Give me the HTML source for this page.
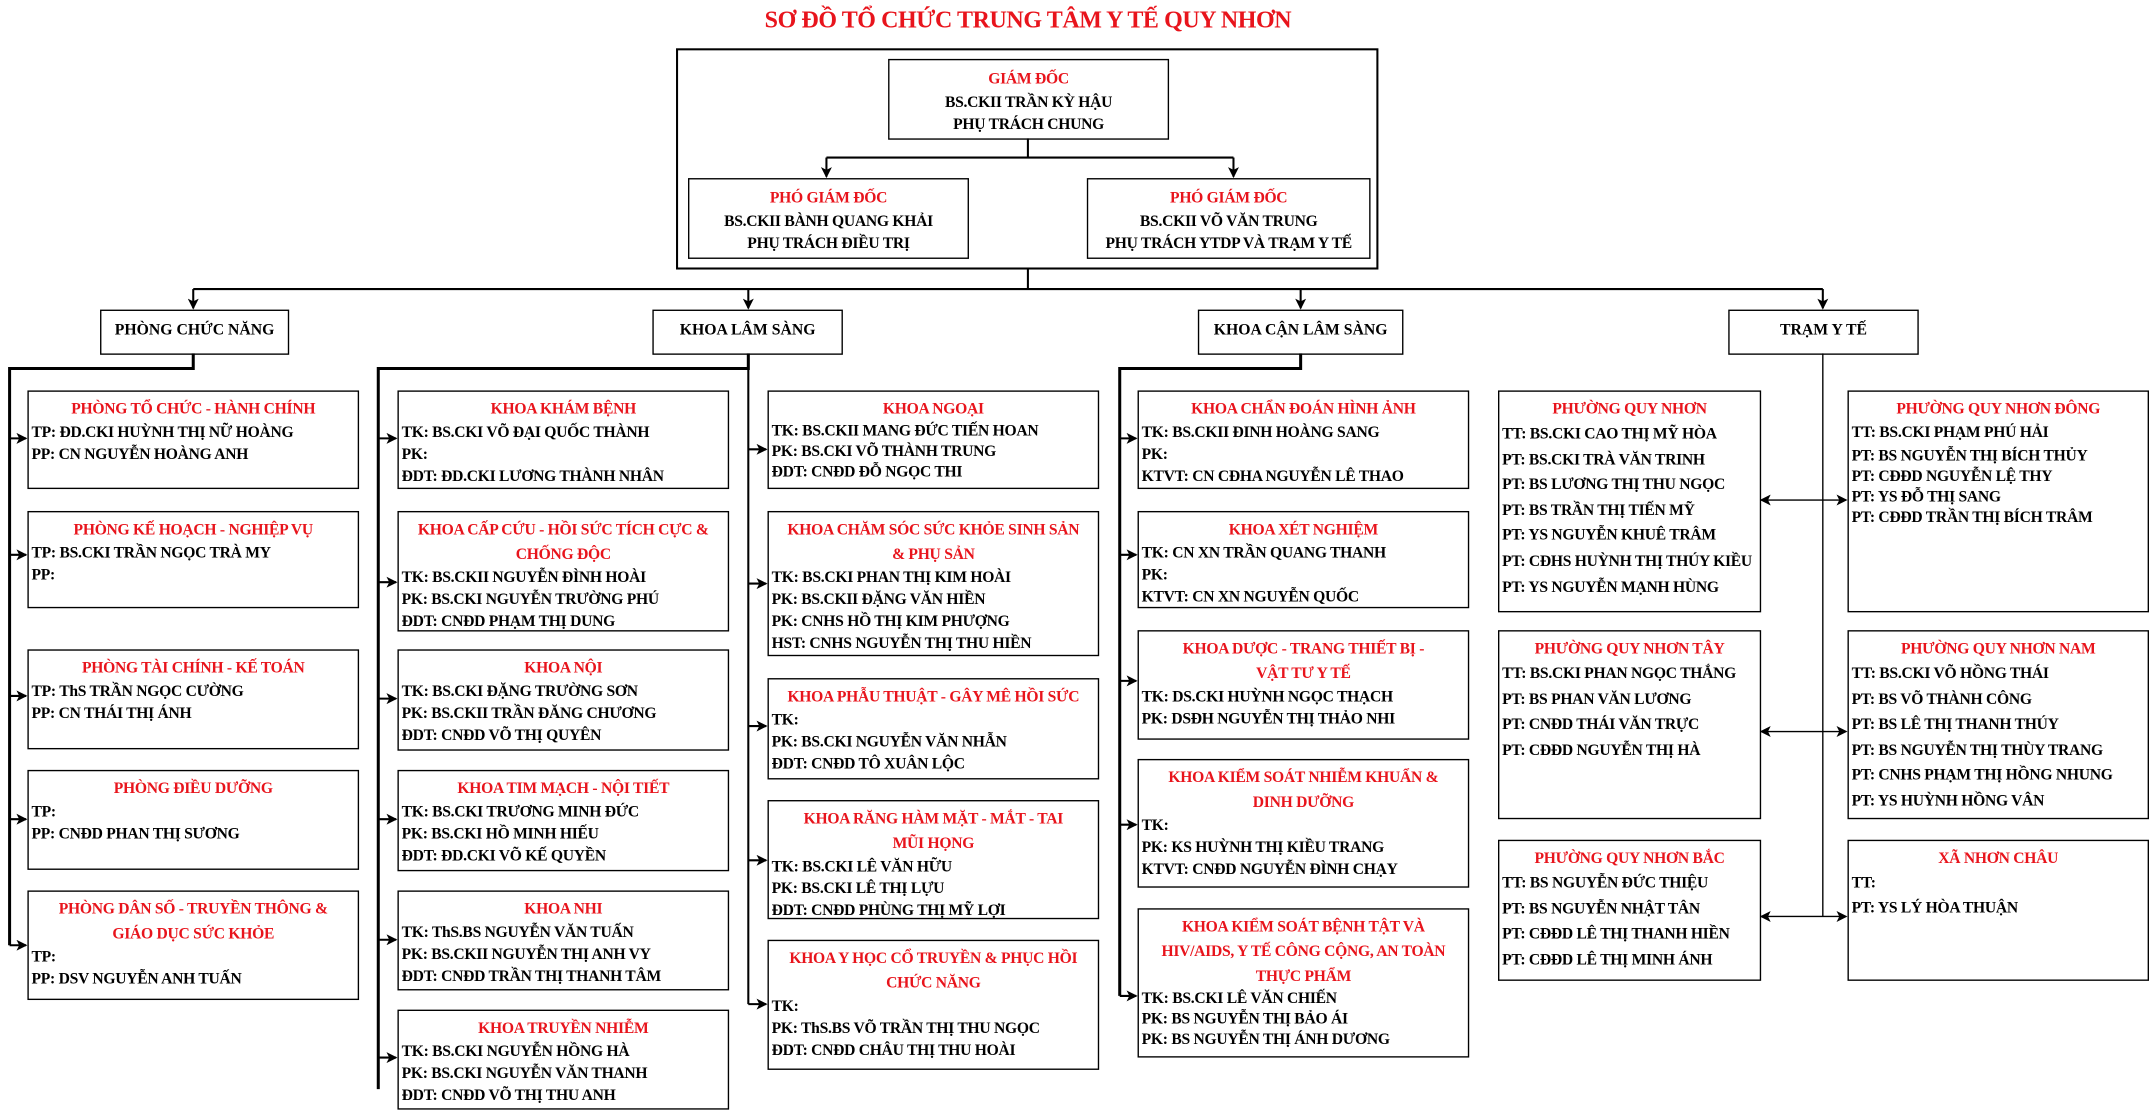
<!DOCTYPE html>
<html><head><meta charset="utf-8">
<style>
html,body{margin:0;padding:0;background:#fff;}
body{width:2149px;height:1111px;overflow:hidden;position:relative;}
#w{position:absolute;left:0;top:0;width:1568px;height:811px;transform:scale(1.37054,1.36991);transform-origin:0 0;font-family:"Liberation Serif","Noto Serif CJK SC",serif;font-weight:bold;color:#000;}
.b{position:absolute;border:1.5px solid #000;box-sizing:border-box;padding-top:4px;font-size:11.4px;white-space:nowrap;overflow:hidden;letter-spacing:-0.2px;}
.t{color:#e8141c;text-align:center;line-height:18px;}
.l{line-height:16px;padding-left:2px;}
.c{text-align:center;}
.h{position:absolute;border:1.5px solid #000;box-sizing:border-box;font-size:11.5px;text-align:center;line-height:29px;}
svg{position:absolute;left:0;top:0;}
</style></head><body><div id="w">
<div style="position:absolute;left:0;width:1500px;top:4px;text-align:center;color:#e8141c;font-size:17.5px;letter-spacing:-0.3px;">SƠ ĐỒ TỔ CHỨC TRUNG TÂM Y TẾ QUY NHƠN</div>

<svg width="1568" height="811" viewBox="0 0 1568 811">
<defs><marker id="a" markerWidth="8" markerHeight="8" refX="7" refY="4" orient="auto" markerUnits="userSpaceOnUse"><path d="M0,0 L8,4 L0,8 L2,4 z" fill="#000"/></marker>
<marker id="s" markerWidth="8" markerHeight="8" refX="1" refY="4" orient="auto" markerUnits="userSpaceOnUse"><path d="M8,0 L0,4 L8,8 L6,4 z" fill="#000"/></marker></defs>
<g stroke="#000" fill="none" stroke-width="1.5">
<rect x="494" y="36" width="511" height="160"/>
<path d="M750 101 V115 M603 115 H900"/>
<path d="M603 115 V129" marker-end="url(#a)"/><path d="M900 115 V129" marker-end="url(#a)"/>
<path d="M750 196 V211 M141 211 H1330"/>
<path d="M141 211 V225" marker-end="url(#a)"/><path d="M546 211 V225" marker-end="url(#a)"/>
<path d="M949 211 V225" marker-end="url(#a)"/><path d="M1330 211 V225" marker-end="url(#a)"/>
<path d="M141 258 V269 H7 V690" stroke-width="2.2"/>
<path d="M7 320 H19" marker-end="url(#a)"/><path d="M7 405 H19" marker-end="url(#a)"/>
<path d="M7 508 H19" marker-end="url(#a)"/><path d="M7 598 H19" marker-end="url(#a)"/>
<path d="M7 690 H19" marker-end="url(#a)"/>
<path d="M546 258 V269 H276 V795" stroke-width="2.2"/>
<path d="M546 269 V733"/>
<path d="M276 320 H289" marker-end="url(#a)"/><path d="M276 425 H289" marker-end="url(#a)"/>
<path d="M276 510 H289" marker-end="url(#a)"/><path d="M276 598 H289" marker-end="url(#a)"/>
<path d="M276 686 H289" marker-end="url(#a)"/><path d="M276 772 H289" marker-end="url(#a)"/>
<path d="M546 328 H559" marker-end="url(#a)"/><path d="M546 426 H559" marker-end="url(#a)"/>
<path d="M546 530 H559" marker-end="url(#a)"/><path d="M546 628 H559" marker-end="url(#a)"/>
<path d="M546 733 H559" marker-end="url(#a)"/>
<path d="M949 258 V269 H817 V727" stroke-width="2.2"/>
<path d="M817 320 H829" marker-end="url(#a)"/><path d="M817 405 H829" marker-end="url(#a)"/>
<path d="M817 497 H829" marker-end="url(#a)"/><path d="M817 602 H829" marker-end="url(#a)"/>
<path d="M817 727 H829" marker-end="url(#a)"/>
<path d="M1330 258 V669" stroke-width="1"/>
<path d="M1285 365 H1347" stroke-width="1" marker-start="url(#s)" marker-end="url(#a)"/>
<path d="M1285 534 H1347" stroke-width="1" marker-start="url(#s)" marker-end="url(#a)"/>
<path d="M1285 669 H1347" stroke-width="1" marker-start="url(#s)" marker-end="url(#a)"/>
</g></svg>

<div class="b c" style="left:648px;top:43px;width:205px;height:59px;padding-top:5px;"><div class="t">GIÁM ĐỐC</div><div class="l" style="padding:0">BS.CKII TRẦN KỲ HẬU</div><div class="l" style="padding:0">PHỤ TRÁCH CHUNG</div></div>
<div class="b c" style="left:502px;top:130px;width:205px;height:59px;padding-top:5px;"><div class="t">PHÓ GIÁM ĐỐC</div><div class="l" style="padding:0">BS.CKII BÀNH QUANG KHẢI</div><div class="l" style="padding:0">PHỤ TRÁCH ĐIỀU TRỊ</div></div>
<div class="b c" style="left:793px;top:130px;width:207px;height:59px;padding-top:5px;"><div class="t">PHÓ GIÁM ĐỐC</div><div class="l" style="padding:0">BS.CKII VÕ VĂN TRUNG</div><div class="l" style="padding:0">PHỤ TRÁCH YTDP VÀ TRẠM Y TẾ</div></div>

<div class="h" style="left:73px;top:226px;width:138px;height:33px;">PHÒNG CHỨC NĂNG</div>
<div class="h" style="left:476px;top:226px;width:139px;height:33px;">KHOA LÂM SÀNG</div>
<div class="h" style="left:874px;top:226px;width:150px;height:33px;">KHOA CẬN LÂM SÀNG</div>
<div class="h" style="left:1261px;top:226px;width:139px;height:33px;">TRẠM Y TẾ</div>

<!-- col1 -->
<div class="b" style="left:20px;top:285px;width:242px;height:72px;"><div class="t">PHÒNG TỔ CHỨC - HÀNH CHÍNH</div><div class="l">TP: ĐD.CKI HUỲNH THỊ NỮ HOÀNG</div><div class="l">PP: CN NGUYỄN HOÀNG ANH</div></div>
<div class="b" style="left:20px;top:373px;width:242px;height:71px;"><div class="t">PHÒNG KẾ HOẠCH - NGHIỆP VỤ</div><div class="l">TP: BS.CKI TRẦN NGỌC TRÀ MY</div><div class="l">PP:</div></div>
<div class="b" style="left:20px;top:474px;width:242px;height:73px;"><div class="t">PHÒNG TÀI CHÍNH - KẾ TOÁN</div><div class="l">TP: ThS TRẦN NGỌC CƯỜNG</div><div class="l">PP: CN THÁI THỊ ÁNH</div></div>
<div class="b" style="left:20px;top:562px;width:242px;height:73px;"><div class="t">PHÒNG ĐIỀU DƯỠNG</div><div class="l">TP:</div><div class="l">PP: CNĐD PHAN THỊ SƯƠNG</div></div>
<div class="b" style="left:20px;top:650px;width:242px;height:80px;"><div class="t">PHÒNG DÂN SỐ - TRUYỀN THÔNG &amp;<br>GIÁO DỤC SỨC KHỎE</div><div class="l">TP:</div><div class="l">PP: DSV NGUYỄN ANH TUẤN</div></div>

<!-- col2 left -->
<div class="b" style="left:290px;top:285px;width:242px;height:72px;"><div class="t">KHOA KHÁM BỆNH</div><div class="l">TK: BS.CKI VÕ ĐẠI QUỐC THÀNH</div><div class="l">PK:</div><div class="l">ĐDT: ĐD.CKI LƯƠNG THÀNH NHÂN</div></div>
<div class="b" style="left:290px;top:373px;width:242px;height:88px;"><div class="t">KHOA CẤP CỨU - HỒI SỨC TÍCH CỰC &amp;<br>CHỐNG ĐỘC</div><div class="l">TK: BS.CKII NGUYỄN ĐÌNH HOÀI</div><div class="l">PK: BS.CKI NGUYỄN TRƯỜNG PHÚ</div><div class="l">ĐDT: CNĐD PHẠM THỊ DUNG</div></div>
<div class="b" style="left:290px;top:474px;width:242px;height:74px;"><div class="t">KHOA NỘI</div><div class="l">TK: BS.CKI ĐẶNG TRƯỜNG SƠN</div><div class="l">PK: BS.CKII TRẦN ĐĂNG CHƯƠNG</div><div class="l">ĐDT: CNĐD VÕ THỊ QUYÊN</div></div>
<div class="b" style="left:290px;top:562px;width:242px;height:74px;"><div class="t">KHOA TIM MẠCH - NỘI TIẾT</div><div class="l">TK: BS.CKI TRƯƠNG MINH ĐỨC</div><div class="l">PK: BS.CKI HỒ MINH HIẾU</div><div class="l">ĐDT: ĐD.CKI VÕ KẾ QUYỀN</div></div>
<div class="b" style="left:290px;top:650px;width:242px;height:73px;"><div class="t">KHOA NHI</div><div class="l">TK: ThS.BS NGUYỄN VĂN TUẤN</div><div class="l">PK: BS.CKII NGUYỄN THỊ ANH VY</div><div class="l">ĐDT: CNĐD TRẦN THỊ THANH TÂM</div></div>
<div class="b" style="left:290px;top:737px;width:242px;height:73px;"><div class="t">KHOA TRUYỀN NHIỄM</div><div class="l">TK: BS.CKI NGUYỄN HỒNG HÀ</div><div class="l">PK: BS.CKI NGUYỄN VĂN THANH</div><div class="l">ĐDT: CNĐD VÕ THỊ THU ANH</div></div>

<!-- col2 right -->
<div class="b" style="left:560px;top:285px;width:242px;height:72px;"><div class="t">KHOA NGOẠI</div><div class="l" style="line-height:15px">TK: BS.CKII MANG ĐỨC TIẾN HOAN</div><div class="l" style="line-height:15px">PK: BS.CKI VÕ THÀNH TRUNG</div><div class="l" style="line-height:15px">ĐDT: CNĐD ĐỖ NGỌC THI</div></div>
<div class="b" style="left:560px;top:373px;width:242px;height:106px;"><div class="t">KHOA CHĂM SÓC SỨC KHỎE SINH SẢN<br>&amp; PHỤ SẢN</div><div class="l">TK: BS.CKI PHAN THỊ KIM HOÀI</div><div class="l">PK: BS.CKII ĐẶNG VĂN HIỀN</div><div class="l">PK: CNHS HỒ THỊ KIM PHƯỢNG</div><div class="l">HST: CNHS NGUYỄN THỊ THU HIỀN</div></div>
<div class="b" style="left:560px;top:495px;width:242px;height:74px;"><div class="t">KHOA PHẪU THUẬT - GÂY MÊ HỒI SỨC</div><div class="l">TK:</div><div class="l">PK: BS.CKI NGUYỄN VĂN NHẪN</div><div class="l">ĐDT: CNĐD TÔ XUÂN LỘC</div></div>
<div class="b" style="left:560px;top:584px;width:242px;height:87px;"><div class="t">KHOA RĂNG HÀM MẶT - MẮT - TAI<br>MŨI HỌNG</div><div class="l">TK: BS.CKI LÊ VĂN HỮU</div><div class="l">PK: BS.CKI LÊ THỊ LỰU</div><div class="l">ĐDT: CNĐD PHÙNG THỊ MỸ LỢI</div></div>
<div class="b" style="left:560px;top:686px;width:242px;height:95px;"><div class="t">KHOA Y HỌC CỔ TRUYỀN &amp; PHỤC HỒI<br>CHỨC NĂNG</div><div class="l">TK:</div><div class="l">PK: ThS.BS VÕ TRẦN THỊ THU NGỌC</div><div class="l">ĐDT: CNĐD CHÂU THỊ THU HOÀI</div></div>

<!-- col3 -->
<div class="b" style="left:830px;top:285px;width:242px;height:72px;"><div class="t">KHOA CHẨN ĐOÁN HÌNH ẢNH</div><div class="l">TK: BS.CKII ĐINH HOÀNG SANG</div><div class="l">PK:</div><div class="l">KTVT: CN CĐHA NGUYỄN LÊ THAO</div></div>
<div class="b" style="left:830px;top:373px;width:242px;height:71px;"><div class="t">KHOA XÉT NGHIỆM</div><div class="l">TK: CN XN TRẦN QUANG THANH</div><div class="l">PK:</div><div class="l">KTVT: CN XN NGUYỄN QUỐC</div></div>
<div class="b" style="left:830px;top:460px;width:242px;height:80px;"><div class="t">KHOA DƯỢC - TRANG THIẾT BỊ -<br>VẬT TƯ Y TẾ</div><div class="l">TK: DS.CKI HUỲNH NGỌC THẠCH</div><div class="l">PK: DSĐH NGUYỄN THỊ THẢO NHI</div></div>
<div class="b" style="left:830px;top:554px;width:242px;height:94px;"><div class="t">KHOA KIỂM SOÁT NHIỄM KHUẨN &amp;<br>DINH DƯỠNG</div><div class="l">TK:</div><div class="l">PK: KS HUỲNH THỊ KIỀU TRANG</div><div class="l">KTVT: CNĐD NGUYỄN ĐÌNH CHẠY</div></div>
<div class="b" style="left:830px;top:663px;width:242px;height:109px;"><div class="t">KHOA KIỂM SOÁT BỆNH TẬT VÀ<br>HIV/AIDS, Y TẾ CÔNG CỘNG, AN TOÀN<br>THỰC PHẨM</div><div class="l" style="line-height:15px">TK: BS.CKI LÊ VĂN CHIẾN</div><div class="l" style="line-height:15px">PK: BS NGUYỄN THỊ BẢO ÁI</div><div class="l" style="line-height:15px">PK: BS NGUYỄN THỊ ÁNH DƯƠNG</div></div>

<!-- col4 -->
<div class="b" style="left:1093px;top:285px;width:192px;height:162px;"><div class="t">PHƯỜNG QUY NHƠN</div><div class="l" style="line-height:18.6px">TT: BS.CKI CAO THỊ MỸ HÒA</div><div class="l" style="line-height:18.6px">PT: BS.CKI TRÀ VĂN TRINH</div><div class="l" style="line-height:18.6px">PT: BS LƯƠNG THỊ THU NGỌC</div><div class="l" style="line-height:18.6px">PT: BS TRẦN THỊ TIẾN MỸ</div><div class="l" style="line-height:18.6px">PT: YS NGUYỄN KHUÊ TRÂM</div><div class="l" style="line-height:18.6px">PT: CĐHS HUỲNH THỊ THÚY KIỀU</div><div class="l" style="line-height:18.6px">PT: YS NGUYỄN MẠNH HÙNG</div></div>
<div class="b" style="left:1093px;top:460px;width:192px;height:138px;"><div class="t">PHƯỜNG QUY NHƠN TÂY</div><div class="l" style="line-height:18.6px">TT: BS.CKI PHAN NGỌC THẮNG</div><div class="l" style="line-height:18.6px">PT: BS PHAN VĂN LƯƠNG</div><div class="l" style="line-height:18.6px">PT: CNĐD THÁI VĂN TRỰC</div><div class="l" style="line-height:18.6px">PT: CĐĐD NGUYỄN THỊ HÀ</div></div>
<div class="b" style="left:1093px;top:613px;width:192px;height:103px;"><div class="t">PHƯỜNG QUY NHƠN BẮC</div><div class="l" style="line-height:18.6px">TT: BS NGUYỄN ĐỨC THIỆU</div><div class="l" style="line-height:18.6px">PT: BS NGUYỄN NHẬT TÂN</div><div class="l" style="line-height:18.6px">PT: CĐĐD LÊ THỊ THANH HIỀN</div><div class="l" style="line-height:18.6px">PT: CĐĐD LÊ THỊ MINH ÁNH</div></div>
<div class="b" style="left:1348px;top:285px;width:220px;height:162px;"><div class="t">PHƯỜNG QUY NHƠN ĐÔNG</div><div class="l" style="line-height:17px">TT: BS.CKI PHẠM PHÚ HẢI</div><div class="l" style="line-height:16px">PT: BS NGUYỄN THỊ BÍCH THỦY</div><div class="l" style="line-height:15px">PT: CĐĐD NGUYỄN LỆ THY</div><div class="l" style="line-height:15px">PT: YS ĐỖ THỊ SANG</div><div class="l" style="line-height:15px">PT: CĐĐD TRẦN THỊ BÍCH TRÂM</div></div>
<div class="b" style="left:1348px;top:460px;width:220px;height:138px;"><div class="t">PHƯỜNG QUY NHƠN NAM</div><div class="l" style="line-height:18.6px">TT: BS.CKI VÕ HỒNG THÁI</div><div class="l" style="line-height:18.6px">PT: BS VÕ THÀNH CÔNG</div><div class="l" style="line-height:18.6px">PT: BS LÊ THỊ THANH THÚY</div><div class="l" style="line-height:18.6px">PT: BS NGUYỄN THỊ THÙY TRANG</div><div class="l" style="line-height:18.6px">PT: CNHS PHẠM THỊ HỒNG NHUNG</div><div class="l" style="line-height:18.6px">PT: YS HUỲNH HỒNG VÂN</div></div>
<div class="b" style="left:1348px;top:613px;width:220px;height:103px;"><div class="t">XÃ NHƠN CHÂU</div><div class="l" style="line-height:18px">TT:</div><div class="l" style="line-height:18px">PT: YS LÝ HÒA THUẬN</div></div>
</div></body></html>
